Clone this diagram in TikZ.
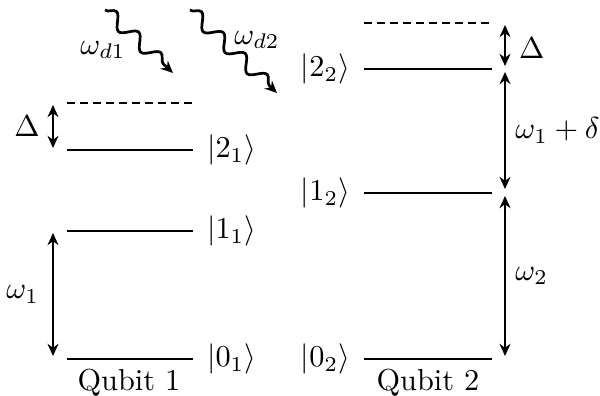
\documentclass[tikz,border=0pt]{standalone}
\usetikzlibrary{arrows.meta,decorations.pathmorphing}
\begin{document}
\begin{tikzpicture}[x=0.33pt,y=-0.33pt,
  level/.style={line width=0.9pt},
  virt/.style={line width=0.9pt,dash pattern=on 2.7pt off 1.6pt},
  gap/.style={line width=0.9pt,{Stealth[length=4pt,width=3.6pt]}-{Stealth[length=4pt,width=3.6pt]}},
  drive/.style={line width=0.9pt,-{Stealth[length=4pt,width=3.6pt]},decorate,decoration={snake,segment length=10pt,amplitude=2.2pt,pre length=0pt,post length=3pt}},
  klab/.style={inner sep=4.2pt},
  glab/.style={inner sep=3pt}]
\useasboundingbox (0,0) rectangle (600,396);
% Qubit 1 levels
\coordinate (a0l) at (67,359); \coordinate (a0r) at (193,359);
\coordinate (a1l) at (67,231); \coordinate (a1r) at (193,231);
\coordinate (a2l) at (67,150); \coordinate (a2r) at (193,150);
\coordinate (adl) at (67,103); \coordinate (adr) at (193,103);
\draw[level] (a0l) -- (a0r) node[klab,right] (k01) {$|0_1\rangle$};
\draw[level] (a1l) -- (a1r) node[klab,right] (k11) {$|1_1\rangle$};
\draw[level] (a2l) -- (a2r) node[klab,right] (k21) {$|2_1\rangle$};
\draw[virt] (adl) -- (adr);
\node (qb1) at (129,383) {Qubit 1};
\coordinate (w1t) at (53,233); \coordinate (w1b) at (53,356);
\draw[gap] (w1t) -- (w1b) node[midway,left,klab] (w1) {$\omega_1$};
\coordinate (d1t) at (53,105); \coordinate (d1b) at (53,148);
\draw[gap] (d1t) -- (d1b) node[midway,left,glab,xshift=-1pt] (d1) {$\Delta$};
% Qubit 2 levels
\coordinate (b0l) at (364,359); \coordinate (b0r) at (492,359);
\coordinate (b1l) at (364,193); \coordinate (b1r) at (492,193);
\coordinate (b2l) at (364,69); \coordinate (b2r) at (492,69);
\coordinate (bdl) at (364,23); \coordinate (bdr) at (492,23);
\draw[level] (b0r) -- (b0l) node[klab,left] (k02) {$|0_2\rangle$};
\draw[level] (b1r) -- (b1l) node[klab,left] (k12) {$|1_2\rangle$};
\draw[level] (b2r) -- (b2l) node[klab,left] (k22) {$|2_2\rangle$};
\draw[virt] (bdl) -- (bdr);
\node (qb2) at (428,383) {Qubit 2};
\coordinate (g2t) at (505,196); \coordinate (g2b) at (505,356);
\draw[gap] (g2t) -- (g2b) node[midway,right,glab] (w2) {$\omega_2$};
\coordinate (g1t) at (505,72); \coordinate (g1b) at (505,189);
\draw[gap] (g1t) -- (g1b) node[midway,right,glab] (w1d) {$\omega_1+\delta$};
\coordinate (d2t) at (505,25); \coordinate (d2b) at (505,66);
\draw[gap] (d2t) -- (d2b) node[midway,right,klab,yshift=-1pt] (d2) {$\Delta$};
% drives
\coordinate (s1) at (105,10); \coordinate (e1) at (173,73);
\coordinate (s2) at (190,10); \coordinate (e2) at (277,93);
\draw[drive] (s1) -- (e1);
\draw[drive] (s2) -- (e2);
\node (wd1) at (103,50) {$\omega_{d1}$};
\node (wd2) at (257,40) {$\omega_{d2}$};
\end{tikzpicture}
\end{document}
